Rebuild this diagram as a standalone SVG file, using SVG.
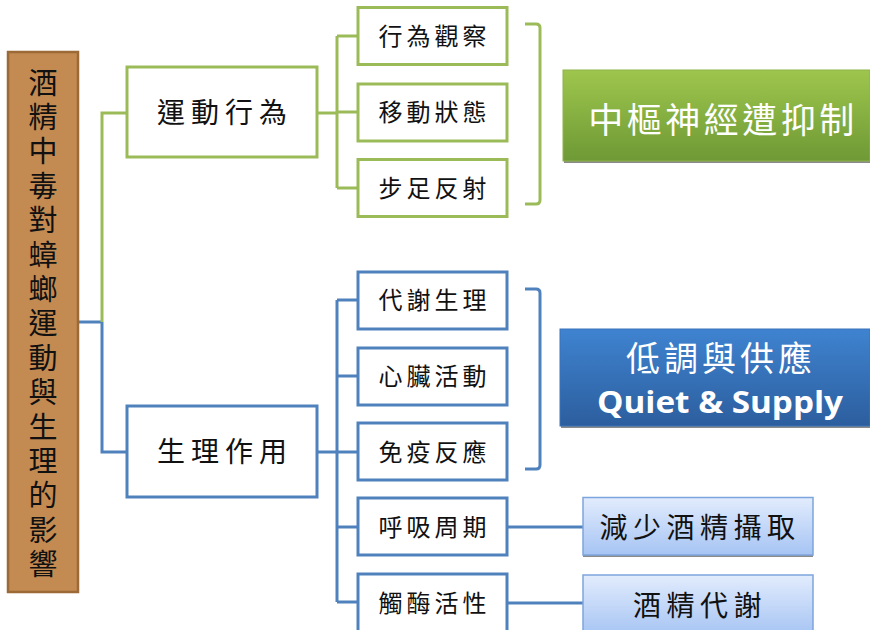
<svg xmlns="http://www.w3.org/2000/svg" width="870" height="630" viewBox="0 0 870 630">
<defs>
<linearGradient id="gGreen" x1="0" y1="0" x2="0" y2="1"><stop offset="0" stop-color="#9EC64D"/><stop offset="1" stop-color="#6E9935"/></linearGradient>
<linearGradient id="gBlue" x1="0" y1="0" x2="0" y2="1"><stop offset="0" stop-color="#3F83D0"/><stop offset="1" stop-color="#2C5E9E"/></linearGradient>
<linearGradient id="gLight" x1="0" y1="0" x2="0" y2="1"><stop offset="0" stop-color="#E2ECFD"/><stop offset="1" stop-color="#A6C4F3"/></linearGradient>
<style>
.cjk{font-family:"Noto Sans CJK TC","Noto Sans CJK SC",sans-serif;fill:#111;text-anchor:middle}
.gb{fill:#fff;stroke:#9BBB59;stroke-width:3}
.bb{fill:#fff;stroke:#4F81BD;stroke-width:3}
.gl{fill:none;stroke:#9BBB59;stroke-width:3}
.bl{fill:none;stroke:#4F81BD;stroke-width:3}
.sub{font-size:24px;letter-spacing:4px}
.main{font-size:28px;letter-spacing:6px}
.lb{fill:url(#gLight);stroke:#7DA5DD;stroke-width:1.5}
.shadow{fill:#8a8a8a}
</style>
</defs>
<rect width="870" height="630" fill="#fff"/>

<g id="connectors">
<path class="bl" d="M78,322 H102"/>
<path class="gl" d="M102,322 V113 H127"/>
<path class="bl" d="M102,322 V452 H127"/>
<path class="gl" d="M317,113 H337 M337,36 V188 M337,36 H358 M337,112 H358 M337,188 H358"/>
<path class="bl" d="M317,452 H337 M337,300 V602 M337,300 H358 M337,376 H358 M337,452 H358 M337,527 H358 M337,602 H358"/>
<path class="gl" stroke-width="2.5" d="M525,24 H536 Q540,24 540,28 V200 Q540,204 536,204 H525"/>
<path class="bl" stroke-width="2.5" d="M525,289 H536 Q540,289 540,293 V465 Q540,469 536,469 H525"/>
<path class="bl" d="M507,527 H583 M507,603 H583"/>
</g>

<g id="root">
<rect x="8" y="52" width="70" height="540" fill="#C38A52" stroke="#9C6A36" stroke-width="2.5"/>
<text x="43" y="68" font-family="'Noto Sans CJK TC','Noto Sans CJK SC',sans-serif" font-size="29" fill="#111" writing-mode="vertical-rl" letter-spacing="5.4">酒精中毒對蟑螂運動與生理的影響</text>
</g>

<g id="motor">
<rect class="gb" x="127" y="67" width="190" height="90"/>
<text class="cjk main" x="225" y="123">運動行為</text>
</g>
<g id="physio">
<rect class="bb" x="127" y="406" width="190" height="91"/>
<text class="cjk main" x="225" y="462">生理作用</text>
</g>

<g id="m1"><rect class="gb" x="358" y="7.5" width="149" height="57"/><text class="cjk sub" x="434.5" y="45">行為觀察</text></g>
<g id="m2"><rect class="gb" x="358" y="84" width="149" height="57"/><text class="cjk sub" x="434.5" y="121">移動狀態</text></g>
<g id="m3"><rect class="gb" x="358" y="159.5" width="149" height="57"/><text class="cjk sub" x="434.5" y="197">步足反射</text></g>

<g id="p1"><rect class="bb" x="358" y="272" width="149" height="57"/><text class="cjk sub" x="434.5" y="309">代謝生理</text></g>
<g id="p2"><rect class="bb" x="358" y="348" width="149" height="57"/><text class="cjk sub" x="434.5" y="385">心臟活動</text></g>
<g id="p3"><rect class="bb" x="358" y="423" width="149" height="57"/><text class="cjk sub" x="434.5" y="461">免疫反應</text></g>
<g id="p4"><rect class="bb" x="358" y="498" width="149" height="57"/><text class="cjk sub" x="434.5" y="536">呼吸周期</text></g>
<g id="p5"><rect class="bb" x="358" y="574" width="149" height="60"/><text class="cjk sub" x="434.5" y="612">觸酶活性</text></g>

<g id="cns">
<rect class="shadow" x="564" y="72" width="306" height="91"/>
<rect x="563" y="70" width="307" height="91" fill="url(#gGreen)" stroke="#8DB348" stroke-width="1"/>
<text class="cjk" x="723" y="133" font-size="35" letter-spacing="3.5" style="fill:#fff">中樞神經遭抑制</text>
</g>

<g id="quiet">
<rect class="shadow" x="561" y="331" width="309" height="97"/>
<rect x="560" y="329" width="310" height="97" fill="url(#gBlue)" stroke="#3A73BA" stroke-width="1"/>
<text class="cjk" x="721" y="371" font-size="34" letter-spacing="4" style="fill:#fff">低調與供應</text>
<text x="720" y="413" font-family="'Open Sans','Liberation Sans',sans-serif" font-weight="bold" font-size="30" fill="#fff" text-anchor="middle" textLength="246" lengthAdjust="spacingAndGlyphs">Quiet &amp; Supply</text>
</g>

<g id="reduce">
<rect class="shadow" x="583" y="499" width="230" height="58"/>
<rect class="lb" x="583" y="497.5" width="230" height="57.5"/>
<text class="cjk" x="700" y="538" font-size="28" letter-spacing="5.5">減少酒精攝取</text>
</g>
<g id="metab">
<rect class="lb" x="583" y="575" width="230" height="60"/>
<text class="cjk" x="700" y="616" font-size="28" letter-spacing="5.5">酒精代謝</text>
</g>
</svg>
